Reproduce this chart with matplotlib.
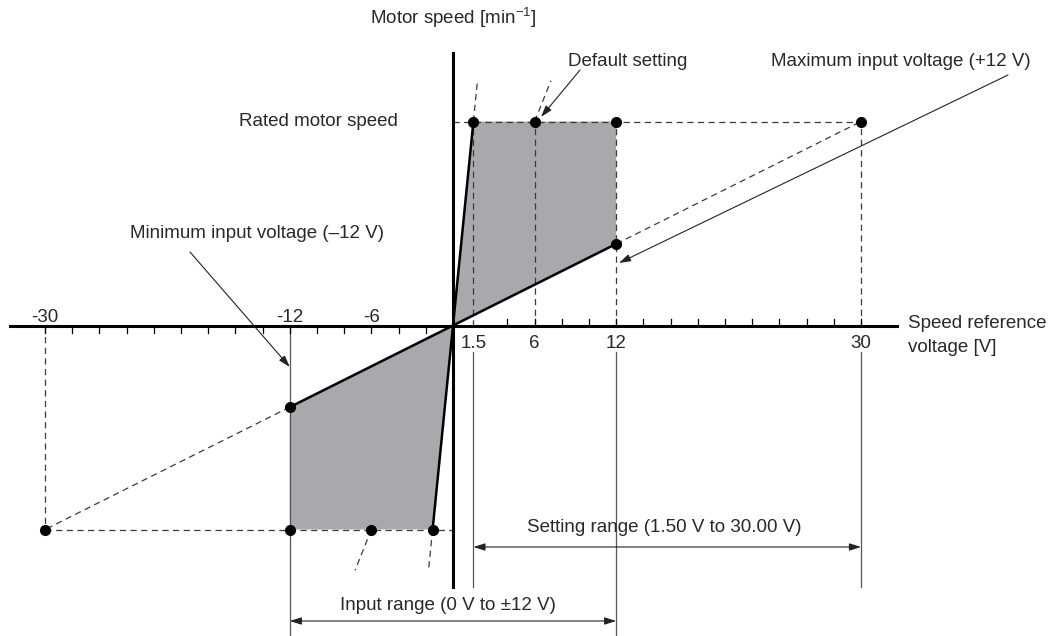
import matplotlib
matplotlib.use("Agg")
import matplotlib.pyplot as plt
import numpy as np

plt.rcParams['font.family'] = ['Liberation Sans', 'DejaVu Sans']

# ---- data (speed in units of rated motor speed) ----
rated_speed = 1.0
max_input_v = 12.0
setting_min_v = 1.5
setting_max_v = 30.0
default_setting_v = 6.0
pos_tick_labels = [1.5, 6, 12, 30]
neg_tick_labels = [-30, -12, -6]
minor_ticks_pos = list(range(4, 31, 2))
minor_ticks_neg = list(range(-30, -1, 2))
speed_at_max_input = max_input_v / setting_max_v * rated_speed   # 0.4
ext = 1.2  # extension factor of dashed gain lines

# ---- figure / coordinate frame ----
W, H, DPI = 1051, 636, 100
fig = plt.figure(figsize=(W / DPI, H / DPI), dpi=DPI)
ax = fig.add_axes([0, 0, 1, 1])
ox, oy = 453.0, 325.5          # origin in pixels
sx, sy = 13.6, 204.0           # pixels per volt / per rated speed
ax.set_xlim(-ox / sx, (W - ox) / sx)
ax.set_ylim(-(H - oy) / sy, oy / sy)
ax.axis('off')

def py(p):   # pixel row -> data y
    return (oy - p) / sy

def px(p):   # pixel col -> data x
    return (p - ox) / sx

TXT = '#2a2728'
LINE = '#3a3a3a'
THIN = '#555555'
FILL = '#a7a9ac'
FS = 13.5

R = rated_speed
# ---- gray regions ----
ax.fill([0, setting_min_v, max_input_v, max_input_v],
        [0, R, R, speed_at_max_input], color=FILL, lw=0, zorder=1)
ax.fill([0, -setting_min_v, -max_input_v, -max_input_v],
        [0, -R, -R, -speed_at_max_input], color=FILL, lw=0, zorder=1)

dash = dict(color=LINE, lw=0.9, ls=(0, (5, 3.5)), zorder=2)
# horizontal dashed rated lines
ax.plot([0, setting_max_v], [R, R], **dash)
ax.plot([-setting_max_v, 0], [-R, -R], **dash)
# vertical dashed lines above axis
for v in [setting_min_v, default_setting_v, max_input_v, setting_max_v]:
    ax.plot([v, v], [0, R], **dash)
ax.plot([-setting_max_v, -setting_max_v], [0, -R], **dash)
# dashed gain continuation lines
ax.plot([max_input_v, setting_max_v], [speed_at_max_input, R], **dash)
ax.plot([-max_input_v, -setting_max_v], [-speed_at_max_input, -R], **dash)
for v in [setting_min_v, default_setting_v]:
    ax.plot([v, v * ext], [R, R * ext], **dash)
    ax.plot([-v, -v * ext], [-R, -R * ext], **dash)

# thick solid gain lines
thick = dict(color='black', lw=1.8, zorder=4, solid_capstyle='round')
ax.plot([0, setting_min_v], [0, R], **thick)
ax.plot([0, max_input_v], [0, speed_at_max_input], **thick)
ax.plot([0, -setting_min_v], [0, -R], **thick)
ax.plot([0, -max_input_v], [0, -speed_at_max_input], **thick)

# thin solid extension lines below axis
thin = dict(color=THIN, lw=0.9, zorder=2)
ax.plot([setting_min_v] * 2, [py(352), py(587)], **thin)
ax.plot([setting_max_v] * 2, [py(352), py(587)], **thin)
ax.plot([max_input_v] * 2, [py(352), py(H)], **thin)
ax.plot([-max_input_v] * 2, [0, py(H)], **thin)

# axes
ax.plot([px(10), px(897)], [0, 0], color='black', lw=2.2, zorder=5)
ax.plot([0, 0], [py(587), py(53)], color='black', lw=2.2, zorder=5)
tl = 7 / sy
for v in minor_ticks_pos:
    ax.plot([v, v], [0, tl], color='black', lw=0.9, zorder=5)
for v in minor_ticks_neg:
    ax.plot([v, v], [0, -tl], color='black', lw=0.9, zorder=5)

# points
pts_x = [setting_min_v, default_setting_v, max_input_v, setting_max_v, max_input_v,
         -setting_min_v, -default_setting_v, -max_input_v, -setting_max_v, -max_input_v]
pts_y = [R, R, R, R, speed_at_max_input, -R, -R, -R, -R, -speed_at_max_input]
ax.plot(pts_x, pts_y, 'o', color='black', ms=7, zorder=6)

# tick labels
for v in pos_tick_labels:
    ax.text(v, py(343), f'{v:g}', ha='center', va='center', fontsize=FS, color=TXT)
for v in neg_tick_labels:
    ax.text(v, py(317), f'{v:g}', ha='center', va='center', fontsize=FS, color=TXT)

# axis titles
ax.text(0, py(18), r'Motor speed [min$^{\mathregular{-1}}$]', ha='center', va='center',
        fontsize=FS, color=TXT)
ax.text(px(908), py(323), 'Speed reference', ha='left', va='center', fontsize=FS, color=TXT)
ax.text(px(908), py(347), 'voltage [V]', ha='left', va='center', fontsize=FS, color=TXT)
ax.text(px(398), R, 'Rated motor speed', ha='right', va='center', fontsize=FS, color=TXT)

# annotations
arw = dict(arrowstyle='-|>,head_length=0.7,head_width=0.22', color='#222222', lw=0.8,
           shrinkA=0, shrinkB=0)
ax.text(px(568), py(61), 'Default setting', ha='left', va='center', fontsize=FS, color=TXT)
ax.annotate('', xy=(px(541), py(117)), xytext=(px(580), py(70)), arrowprops=arw)
ax.text(px(771), py(62), 'Maximum input voltage (+12 V)', ha='left', va='center',
        fontsize=FS, color=TXT)
ax.annotate('', xy=(px(619), py(263)), xytext=(px(1008), py(75)), arrowprops=arw)
ax.text(px(130), py(234), 'Minimum input voltage (\u201312 V)', ha='left', va='center',
        fontsize=FS, color=TXT)
ax.annotate('', xy=(-max_input_v, py(367)), xytext=(px(190), py(252)), arrowprops=arw)

darw = dict(arrowstyle='<|-|>,head_length=0.7,head_width=0.22', color='#222222', lw=0.8,
            shrinkA=0, shrinkB=0)
ax.annotate('', xy=(setting_min_v, py(547)), xytext=(setting_max_v, py(547)), arrowprops=darw)
ax.text(px(664), py(528), 'Setting range (1.50 V to 30.00 V)',
        ha='center', va='center', fontsize=FS, color=TXT)
ax.annotate('', xy=(-max_input_v, py(621)), xytext=(max_input_v, py(621)), arrowprops=darw)
ax.text(px(448), py(606), 'Input range (0 V to \u00b112 V)', ha='center', va='center',
        fontsize=FS, color=TXT)

fig.savefig('out.png', dpi=DPI)
